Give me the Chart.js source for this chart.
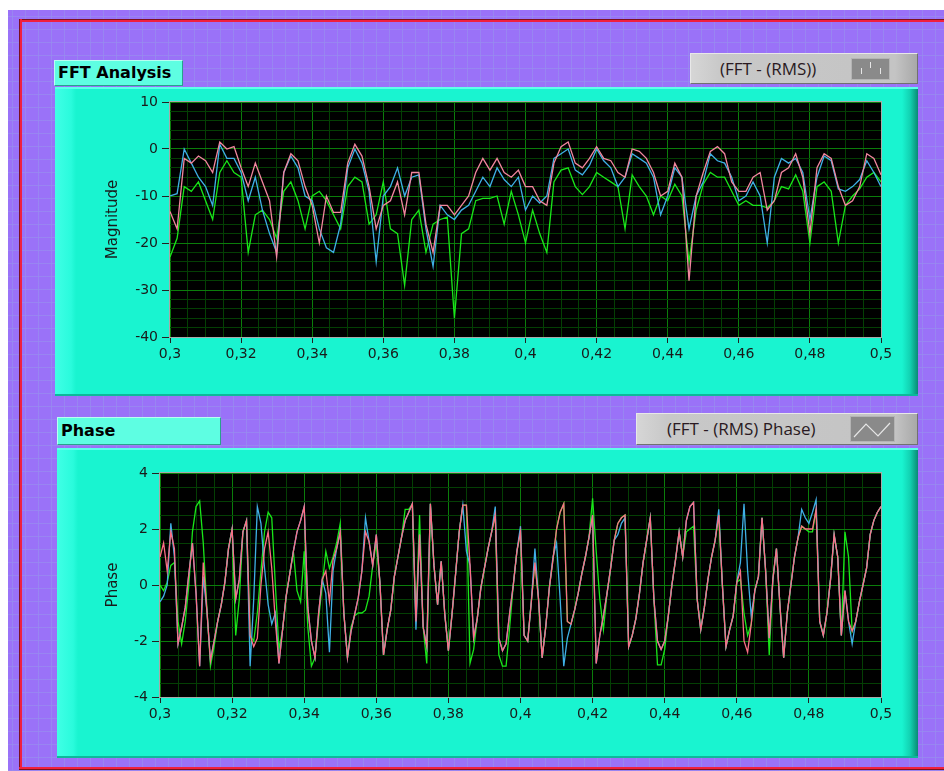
<!DOCTYPE html>
<html>
<head>
<meta charset="utf-8">
<script src="https://cdn.jsdelivr.net/npm/chart.js@4.4.1/dist/chart.umd.min.js"></script>
<style>
html, body { margin: 0; padding: 0; background: #fff; width: 944px; height: 771px; overflow: hidden; position: relative; }
#bg { position: absolute; left: 8px; top: 10px; width: 936px; height: 761px; background-color: #9a72f8;
  background-image: linear-gradient(rgba(150,155,235,.45) 1px, transparent 1px), linear-gradient(90deg, rgba(150,155,235,.45) 1px, transparent 1px);
  background-size: 13px 13px; background-position: 4px 6px; }
.red { position: absolute; background: #f0203e; }
.panel { position: absolute; background: linear-gradient(to right, #40ffe6 0px, #2afbdc 16px, #19f4d0 21px, #19f4d0 calc(100% - 16px), #12d2b2 calc(100% - 8px), #0a8a74 100%);
  border-top: 2px solid #5effea; border-bottom: 2px solid #0db89a; box-sizing: border-box; }
.label { position: absolute; background: #5efee2; box-sizing: border-box; border: 1px solid; border-color: #b8fff2 #2aa08c #2aa08c #b8fff2;
  font: bold 16px "DejaVu Sans"; color: #000; padding-left: 3px; line-height: 24px; }
.legend { position: absolute; box-sizing: border-box; background: linear-gradient(to right, #d6d6d6 0px, #c8c8c8 30px, #c4c4c4 calc(100% - 22px), #a8a8a8 100%);
  border: 1px solid; border-color: #e8e8e8 #707070 #707070 #e8e8e8; font: 17px "Open Sans"; color: #2a1a22; }
.legend span { position: absolute; top: 3px; }
.icon { position: absolute; background: #8a8a8a; border: 1px solid #b4b4b4; box-sizing: border-box; }
canvas { position: absolute; }
</style>
</head>
<body>
<div id="bg"></div>
<!-- red frame: top, left and bottom edges only -->
<div class="red" style="left:19px;top:19px;width:925px;height:2px;border-top:1px solid #7a1020;"></div>
<div class="red" style="left:19px;top:19px;width:2px;height:750px;border-left:1px solid #7a1020;"></div>
<div class="red" style="left:19px;top:767px;width:925px;height:2px;border-bottom:1px solid #7a1020;"></div>

<div class="label" style="left:54px;top:60px;width:129px;height:26px;">FFT Analysis</div>
<div class="legend" style="left:690px;top:53px;width:228px;height:31px;">
  <span style="left:29px;">(FFT - (RMS))</span>
  <div class="icon" style="left:160px;top:4px;width:39px;height:22px;">
    <svg width="37" height="20"><g stroke="#e6e6e6" stroke-width="1"><line x1="9.5" y1="9" x2="9.5" y2="15"/><line x1="18.5" y1="3" x2="18.5" y2="9"/><line x1="28.5" y1="9" x2="28.5" y2="15"/></g></svg>
  </div>
</div>
<div class="panel" style="left:55px;top:87px;width:863px;height:309px;"></div>
<canvas id="magChart" width="848" height="305" style="left:57px;top:88px;"></canvas>

<div class="label" style="left:57px;top:417px;width:164px;height:28px;line-height:26px;">Phase</div>
<div class="legend" style="left:636px;top:413px;width:282px;height:32px;">
  <span style="left:30px;">(FFT - (RMS) Phase)</span>
  <div class="icon" style="left:213px;top:2px;width:45px;height:26px;">
    <svg width="43" height="24"><polyline points="3,20 15,7 27,19 39,6" fill="none" stroke="#e6e6e6" stroke-width="1.2"/></svg>
  </div>
</div>
<div class="panel" style="left:57px;top:448px;width:861px;height:310px;"></div>
<canvas id="phaseChart" width="848" height="306" style="left:57px;top:449px;"></canvas>

<script>
// frequency axis
const freqStart = 0.3;
const magStep = 0.002;
const phaseStep = 0.001;
const freqTicks = [0.3, 0.32, 0.34, 0.36, 0.38, 0.4, 0.42, 0.44, 0.46, 0.48, 0.5];
const magTicks = [-40, -30, -20, -10, 0, 10];
const phaseTicks = [-4, -2, 0, 2, 4];

// FFT magnitude, one value every 0.002
const magPink = [
  -13.3, -17, -2, -3, -1.5, -2.5, -5, 1.5, 0, 0.5,
  -4, -8, -3, -7, -11, -23, -5, -1, -2.5, -8,
  -12, -20, -10, -13.5, -13.5, -3, 1, -1.5, -8, -17,
  -12, -11, -7, -14, -5, -5, -16, -22, -12, -12,
  -14, -12, -10, -5, -2, -4.5, -2, -5, -6, -4.5,
  -8, -8, -11, -12, -3, 0.5, 1.5, -3, -4, -2,
  0.5, -2, -2.5, -5, -6, 0, -0.5, -2, -5, -10,
  -9, -3, -6, -28, -10, -5, -0.5, 0.5, -1, -7,
  -9, -9, -6, -5, -13, -11, -5, -4, -1, -6,
  -18, -4, -1, -2, -8, -12, -11, -8, -1, -2,
  -5.5
];
const magBlue = [
  -10, -9.5, 0, -3, -6, -8, -12, 1, -2, -2,
  -5, -11, -6, -13, -18, -22, -5, -1.5, -4, -10,
  -11, -17, -21, -22, -16, -4, 0, -3, -9, -24,
  -10, -8, -4, -10, -6, -5.5, -17, -25, -12, -14,
  -15, -13, -12, -9, -6, -8, -4, -6.5, -8, -6,
  -13, -10, -11.5, -10, -2, -1, 0, -4.5, -5.5, -3.5,
  0, -2.5, -4, -8, -6, -1, -2, -3, -6, -14,
  -10, -4, -6, -17, -10, -7, -1, -2.5, -3, -6,
  -11, -10, -7, -10, -20, -6, -2, -3, -2, -5,
  -15, -6, -1.5, -2.5, -8.5, -9, -8, -6.5, -2.5, -5,
  -8
];
const magGreen = [
  -23, -19, -8, -9, -7, -11, -15, -5, -2.5, -5,
  -6, -22, -14, -13, -15, -19, -9, -7, -11, -17,
  -10, -9, -11, -14, -17, -8, -6, -7, -16, -14,
  -7, -17, -18, -29, -15, -13, -22, -16, -15, -14.5,
  -36, -18, -17, -11, -10.5, -10.5, -10, -16, -9, -14,
  -20, -13, -18, -22, -7, -4.5, -4, -8, -9.7, -8,
  -5, -6, -7, -8, -17, -5.5, -8, -10, -14, -10,
  -11, -7.5, -10, -24, -13, -7.5, -5, -6, -6, -9,
  -12, -11, -12, -12, -12.5, -11, -8, -8.5, -5.5, -9,
  -20, -8, -7, -9, -20, -12, -10, -8.5, -6, -5,
  -7
];

// FFT phase, one value every 0.001
const phasePink = [
  1.0, 1.5, 0.5, 1.9, 1.3, -2.1, -1.5, -0.8, 0.4, 1.5,
  -0.3, -2.9, 0.8, -0.9, -2.7, -2.0, -1.3, -0.7, 0.1, 1.3,
  2.0, -0.5, 0.2, 1.9, 2.3, -1.8, -2.2, -1.9, 0.0, 1.3,
  1.9, 0.6, -1.3, -2.8, -1.6, -0.4, 0.4, 1.2, 1.9, 2.3,
  2.8, -0.8, -2.0, -2.6, -1.0, 0.2, 0.5, -0.6, 0.9, 1.3,
  1.9, -1.0, -2.6, -1.65, -1.05, -0.45, 0.5, 1.9, 1.55, 0.7,
  1.8, 0.1, -2.5, -1.6, -0.9, 0.3, 1.0, 1.7, 2.3, 2.6,
  2.9, -1.3, 1.8, -1.5, -2.2, 2.9, 0.7, -0.7, 0.85, -1.05,
  -2.35, -1.05, 0.4, 1.9, 2.85, 2.85, 0.7, -1.9, -1.2, -0.1,
  0.6, 1.3, 1.9, 2.5, -1.9, -2.35, -2.1, -1.0, 0.0, 1.2,
  1.9, -1.8, -2.0, -0.6, 0.8, -0.5, -2.6, -1.5, -0.1, 0.9,
  2.0, 2.6, 2.9, -1.3, -1.4, -0.9, -0.3, 0.4, 1.0, 1.7,
  2.5, -2.8, -1.8, -1.1, -0.3, 0.6, 1.6, 2.2, 2.4, 2.5,
  -2.2, -1.8, -1.2, -0.3, 0.8, 1.6, 2.4, -0.5, -2.0, -2.3,
  -2.0, -1.1, 0.0, 0.9, 1.9, 1.0, 2.3, 2.8, 2.95, -0.5,
  -1.6, -0.8, 0.2, 1.0, 1.6, 2.5, 0.0, -2.2, -1.6, -1.1,
  0.1, 0.5, -2.0, -2.4, -1.4, -0.2, 0.3, 2.4, 0.5, -1.9,
  0.2, 1.3, -0.8, -2.6, -1.0, 0.0, 1.0, 1.7, 2.1, 2.0,
  2.0, 2.0, 2.7, -1.3, -1.8, -1.0, 0.2, 1.8, 1.0, -1.8,
  -0.2, -1.3, -1.65, -1.3, -0.6, 0.0, 0.6, 1.8, 2.3, 2.6,
  2.8
];
const phaseBlue = [
  -0.6, -0.4, 0.0, 2.2, 1.0, -2.1, -1.5, -0.8, 0.4, 1.5,
  -0.3, -2.9, 0.3, -0.9, -2.7, -2.0, -1.3, -0.7, 0.1, 1.3,
  2.0, -0.5, 0.2, 1.9, 2.3, -2.9, -0.5, 2.8, 2.2, 0.6,
  -0.7, -1.4, -1.0, -2.8, -1.6, -0.4, 0.4, 1.2, 1.9, 2.3,
  2.8, -0.8, -2.0, -2.6, -1.0, 0.2, -0.3, -2.4, 0.5, 1.3,
  1.9, -1.0, -2.6, -1.65, -1.05, -0.45, 0.5, 2.4, 1.55, 0.7,
  1.8, 0.1, -2.5, -1.6, -0.9, 0.3, 1.0, 1.7, 2.3, 2.6,
  2.9, -1.6, 1.8, -1.5, -2.2, 2.9, 0.7, -0.7, 0.85, -1.05,
  -2.35, -1.05, 0.4, 1.9, 2.85, 1.2, 0.7, -1.9, -1.2, -0.1,
  0.6, 1.3, 1.9, 2.8, -1.9, -2.35, -2.1, -1.0, 0.0, 1.2,
  2.1, -1.8, -2.0, -0.6, 1.3, -0.5, -2.6, -1.5, -0.1, 1.0,
  1.5, -0.5, -2.9, -1.9, -1.4, -0.9, -0.3, 0.4, 1.0, 1.7,
  2.5, -2.8, -1.8, -1.1, -0.3, 0.6, 1.6, 1.8, 2.2, 2.4,
  -2.2, -1.8, -1.2, -0.3, 0.8, 1.6, 2.4, -0.5, -2.0, -2.3,
  -2.0, -1.1, 0.0, 0.9, 1.9, 1.0, 2.3, 2.8, 2.95, -0.5,
  -1.6, -0.8, 0.2, 1.0, 1.6, 2.7, 0.0, -2.2, -1.6, -1.1,
  0.1, 0.8, 2.9, 0.5, -1.1, -0.2, 0.3, 2.4, 0.5, -1.9,
  0.2, 1.3, -0.8, -2.6, -1.0, 0.0, 1.0, 1.7, 2.7, 2.4,
  2.2, 2.6, 3.05, -1.3, -1.8, -1.0, 0.2, 1.8, 1.0, -1.8,
  -0.2, -1.3, -2.1, -1.3, -0.6, 0.0, 0.6, 1.8, 2.3, 2.6,
  2.8
];
const phaseGreen = [
  0.0, -0.2, 0.1, 0.7, 0.8, -1.3, -2.1, -1.3, 0.0, 1.9,
  2.8, 3.0, 1.5, -0.8, -2.9, -2.2, -1.3, -0.7, 0.1, 1.3,
  2.0, -1.8, -0.5, 1.9, 2.3, -1.8, -2.0, -1.0, 0.5, 1.9,
  2.6, 2.4, 0.0, -2.3, -1.6, -0.4, 0.4, 1.2, -0.2, -0.6,
  1.2, -1.5, -2.9, -2.6, -1.2, 0.0, 1.2, 0.6, 1.0, 1.5,
  2.2, -1.0, -2.6, -1.5, -1.1, -1.0, -1.0, -0.9, -0.4, 0.7,
  1.5, 0.1, -2.5, -1.6, -0.9, 0.3, 1.0, 1.7, 2.7, 2.7,
  2.9, -1.3, 2.5, -1.5, -2.8, 2.9, 0.7, -0.7, 0.85, -1.05,
  -2.35, -1.05, 0.4, 1.9, 2.85, 2.85, -2.8, -2.3, -1.2, -0.1,
  0.6, 1.3, 1.9, 2.5, -2.5, -2.9, -2.9, -1.5, 0.0, 1.2,
  1.9, -1.8, -2.0, -0.6, 0.8, -0.5, -2.6, -1.5, -0.1, 0.9,
  2.0, 2.6, 2.9, -1.3, -1.4, -0.9, -0.3, 0.4, 1.0, 1.7,
  3.1, 1.2, -0.5, -1.6, -0.3, 0.6, 1.6, 2.2, 2.4, 2.5,
  -2.2, -1.8, -1.2, -0.3, 0.8, 1.6, 2.4, -0.5, -2.85, -2.85,
  -2.3, -1.1, 0.0, 0.9, 1.9, 1.0, 1.9, 2.0, 2.1, -0.5,
  -1.6, -0.8, 0.2, 1.0, 1.6, 2.5, 0.0, -2.2, -1.6, -1.1,
  0.1, 0.2, -1.0, -1.8, -1.4, -0.2, 0.3, 2.4, 0.5, -2.5,
  0.2, 1.3, -0.8, -2.6, -1.0, 0.0, 1.0, 1.7, 2.1, 2.0,
  1.9, 1.9, 2.7, -1.3, -1.8, -1.0, 0.2, 1.8, 1.0, -1.8,
  1.9, 1.0, -1.65, -1.3, -0.6, 0.0, 0.6, 1.8, 2.3, 2.6,
  2.8
];

const MAJOR = '#0b7d0b';
const MINOR = '#043f04';
const TEXT = '#1a1a1a';

// major ticks plus evenly spaced minor grid lines between them
function gridTicks(major, parts) {
  const out = [];
  for (let i = 0; i < major.length - 1; i++) {
    for (let j = 0; j < parts; j++) {
      out.push({ value: major[i] + (major[i + 1] - major[i]) * j / parts, lv: j === 0 });
    }
  }
  out.push({ value: major[major.length - 1], lv: true });
  return out;
}

function toPoints(values, step) {
  return values.map((v, i) => ({ x: +(freqStart + i * step).toFixed(4), y: v }));
}

const plotBox = {
  id: 'plotBox',
  beforeDraw(chart) {
    const a = chart.chartArea, c = chart.ctx;
    c.save();
    c.fillStyle = '#000';
    c.fillRect(a.left, a.top, a.right - a.left, a.bottom - a.top);
    c.restore();
  },
  afterDraw(chart) {
    const a = chart.chartArea, c = chart.ctx;
    c.save();
    c.strokeStyle = '#a9a9a9';
    c.lineWidth = 1;
    c.strokeRect(a.left - 0.5, a.top - 0.5, a.right - a.left + 1, a.bottom - a.top + 1);
    c.restore();
  }
};

function makePlot(id, series, step, yTicks, yParts, title, pad, yWidth, xHeight, colors) {
  const gridColor = ctx => (ctx.tick && ctx.tick.lv) ? MAJOR : MINOR;
  const tickColor = ctx => (ctx.tick && ctx.tick.lv) ? '#222' : 'rgba(0,0,0,0)';
  return new Chart(document.getElementById(id), {
    type: 'line',
    data: {
      datasets: series.map((s, i) => ({
        data: toPoints(s, step),
        borderColor: colors[i],
        borderWidth: 1.3,
        pointRadius: 0,
        tension: 0
      }))
    },
    options: {
      responsive: false,
      animation: false,
      devicePixelRatio: 1,
      layout: { padding: pad },
      plugins: { legend: { display: false }, tooltip: { enabled: false } },
      scales: {
        x: {
          type: 'linear',
          min: freqTicks[0],
          max: freqTicks[freqTicks.length - 1],
          afterBuildTicks: s => { s.ticks = gridTicks(freqTicks, 4); },
          afterFit: s => { s.height = xHeight; },
          grid: { color: gridColor, tickColor: tickColor, tickLength: 6, lineWidth: 1 },
          border: { display: false },
          ticks: {
            autoSkip: false, maxRotation: 0, padding: 3, color: TEXT,
            font: { family: 'DejaVu Sans', size: 14 },
            callback: (v, i, t) => t[i].lv ? String(Math.round(v * 100) / 100).replace('.', ',') : ''
          }
        },
        y: {
          type: 'linear',
          min: yTicks[0],
          max: yTicks[yTicks.length - 1],
          afterBuildTicks: s => { s.ticks = gridTicks(yTicks, yParts); },
          afterFit: s => { s.width = yWidth; },
          grid: { color: gridColor, tickColor: tickColor, tickLength: 8, lineWidth: 1 },
          border: { display: false },
          title: { display: true, text: title, color: TEXT, font: { family: 'DejaVu Sans', size: 15 }, padding: { top: 0, bottom: 0 } },
          ticks: {
            autoSkip: false, padding: 4, color: TEXT,
            font: { family: 'DejaVu Sans', size: 14 },
            callback: (v, i, t) => t[i].lv ? String(v) : ''
          }
        }
      }
    },
    plugins: [plotBox]
  });
}

makePlot('magChart', [magPink, magBlue, magGreen], magStep, magTicks, 5, 'Magnitude',
  { left: 47, top: 14, right: 24, bottom: 0 }, 66, 56, ['#f2869e', '#3fb0e6', '#19e619']);
makePlot('phaseChart', [phasePink, phaseBlue, phaseGreen], phaseStep, phaseTicks, 4, 'Phase',
  { left: 47, top: 24, right: 24, bottom: 0 }, 56, 58, ['#fb6f85', '#3fb0e6', '#19e619']);
</script>
</body>
</html>
